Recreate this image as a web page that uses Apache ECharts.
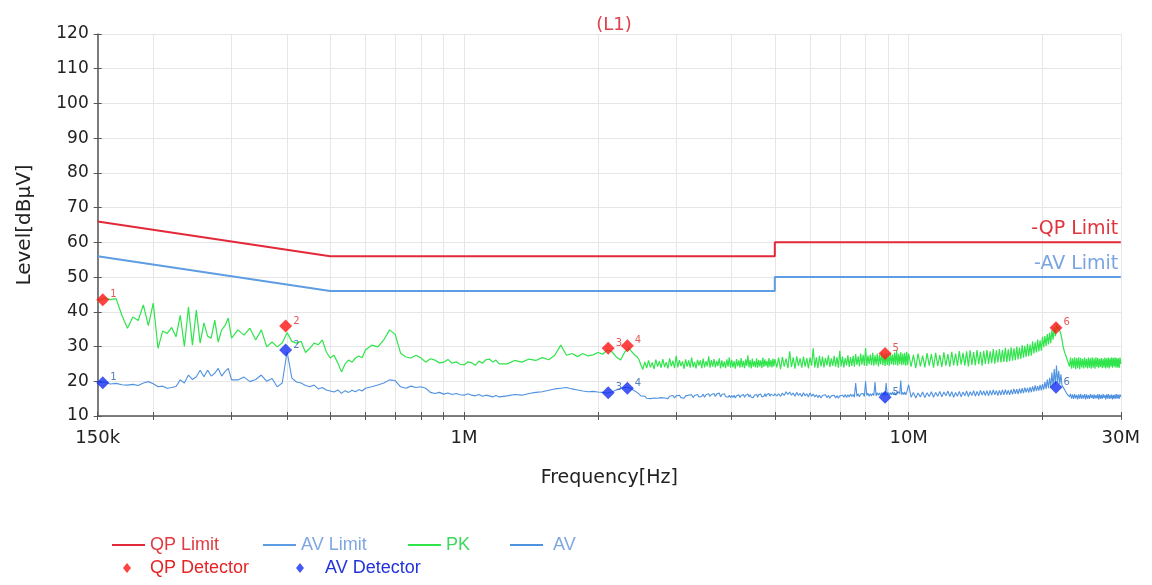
<!DOCTYPE html>
<html>
<head>
<meta charset="utf-8">
<script src="https://cdn.jsdelivr.net/npm/echarts@6/dist/echarts.min.js"></script>
<style>
html,body{margin:0;padding:0;background:#fff;}
#chart{width:1152px;height:585px;}
</style>
</head>
<body>
<div id="chart"></div>
<script>
// ---------- DATA (frequencies in MHz, levels in dBµV) ----------
const freqA = [0.150,0.155,0.160,0.165,0.170,0.175,0.180,0.185,0.190,0.195,0.200,0.205,0.210,0.215,0.220,0.225,0.230,0.235,0.240,0.245,0.250,0.255,0.260,0.265,0.270,0.275,0.280,0.285,0.290,0.295,0.300];
const pkA   = [43.0,44.0,43.5,43.8,39.0,35.3,38.5,37.5,42.0,36.0,42.5,29.5,34.5,33.8,35.5,32.8,39.0,30.0,41.4,30.4,40.5,31.0,36.8,33.0,32.4,37.6,31.3,34.8,36.0,38.2,32.4];
const avA   = [19.6,19.8,19.2,19.4,19.0,18.9,19.1,18.8,19.5,19.9,19.3,18.4,18.6,18.0,18.2,18.5,20.4,19.5,21.8,20.5,21.3,23.2,21.3,23.2,21.5,22.3,23.7,21.5,22.8,23.7,20.4];

const freqB = [0.31,0.32,0.33,0.34,0.35,0.36,0.37,0.38,0.39,0.40,0.41,0.42,0.43,0.44,0.45,0.46,0.47,0.48,0.49,0.50,0.51,0.52,0.53,0.54,0.55,0.56,0.57,0.58,0.59,0.60];
const pkB   = [34.8,33.3,35.3,31.9,34.8,29.9,31.3,29.9,31.0,34.0,31.5,31.0,31.5,28.3,29.5,31.0,30.5,31.9,28.5,26.7,27.5,25.3,22.7,25.0,26.1,25.5,26.7,27.3,26.8,29.0];
const avB   = [20.4,21.2,19.9,20.5,21.8,20.0,20.8,18.4,19.5,28.5,20.9,19.8,19.5,18.8,18.4,18.9,17.8,18.2,17.5,17.2,16.9,17.5,16.5,17.3,16.8,17.4,17.0,17.6,17.2,18.0];

const freqC = [0.62,0.64,0.66,0.68,0.70,0.72,0.74,0.76,0.78,0.80,0.82,0.84,0.86,0.88,0.90,0.92,0.94,0.96,0.98,1.00,1.02,1.04,1.06,1.08,1.10,1.12,1.14,1.16,1.18,1.20];
const pkC   = [30.4,29.9,31.9,34.8,33.5,28.1,27.0,26.7,27.5,26.7,25.5,26.5,26.1,25.3,25.5,26.3,25.2,25.6,24.9,24.7,25.6,25.3,24.6,25.8,25.2,26.2,26.4,25.5,26.1,25.0];
const avC   = [18.4,18.9,19.5,20.4,20.2,18.4,18.0,18.6,18.2,18.4,18.0,16.8,16.5,16.8,16.3,16.6,16.2,16.5,16.1,16.0,16.4,16.0,15.8,16.2,15.7,16.0,15.8,15.5,15.9,15.5];

const freqD = [1.25,1.30,1.35,1.40,1.45,1.50,1.55,1.60,1.65,1.70,1.75,1.80,1.85,1.90,1.95,2.00,2.05,2.10,2.15,2.20,2.25,2.30,2.35,2.40];
const pkD   = [25.0,26.0,25.5,26.4,26.0,26.8,26.2,27.5,30.4,27.5,28.0,27.1,28.0,27.3,27.6,28.3,27.8,29.0,28.5,27.0,26.1,28.5,29.5,28.0];
const avD   = [15.8,16.2,16.0,16.5,16.8,17.0,17.4,17.8,18.0,18.2,17.8,17.5,17.2,17.0,17.1,16.9,16.8,16.6,16.9,17.5,18.0,18.3,18.2,17.5];

const freqE = [2.450,2.475,2.500,2.525,2.550,2.575,2.600,2.625,2.650,2.675,2.700,2.725,2.750,2.775,2.800,2.825,2.850,2.875,2.900,2.925,2.950,2.975,
  3.000,3.025,3.050,3.075,3.100,3.125,3.150,3.175,3.200,3.225,3.250,3.275,3.300,3.325,3.350,3.375,3.400,3.425,3.450,3.475,3.500,3.525,3.550,3.575,3.600,3.625,3.650,3.675,3.700,3.725,3.750,3.775,3.800,3.825,3.850,3.875,3.900,3.925,3.950,3.975,
  4.000,4.025,4.050,4.075,4.100,4.125,4.150,4.175,4.200,4.225,4.250,4.275,4.300,4.325,4.350,4.375,4.400,4.425,4.450,4.475,4.500,4.525,4.550,4.575,4.600,4.625,4.650,4.675,4.700,4.725,4.750,4.775,4.800,4.825,4.850,4.875,4.900,4.925,4.950,4.975,
  5.000];
const pkE = [27.0,26.2,24.6,23.4,25.6,23.8,26.0,24.0,25.4,23.6,26.2,24.2,25.8,23.9,26.4,24.1,25.5,23.7,26.6,24.3,25.9,23.8,
  27.3,24.0,26.1,24.4,25.7,23.6,26.3,24.2,26.0,23.9,26.8,24.1,25.6,23.7,26.2,24.5,26.0,23.8,26.5,24.0,25.8,24.3,27.2,23.9,26.1,24.2,26.4,24.0,25.9,24.4,26.6,23.7,26.0,24.1,25.7,23.8,26.3,24.2,26.9,23.9,
  26.2,24.0,25.8,23.6,26.4,24.3,26.0,23.9,26.7,24.1,25.9,23.8,26.3,24.4,27.5,24.0,26.1,23.7,26.5,24.2,25.8,24.0,26.6,23.9,26.2,24.3,26.0,23.8,26.8,24.1,26.3,24.4,25.9,23.9,26.7,24.2,26.1,24.0,26.5,24.3,
  26.4];
const avE = [16.8,16.3,15.8,15.3,15.7,15.1,15.6,15.0,15.5,15.2,15.7,15.1,15.6,15.3,15.8,15.2,15.6,15.0,15.7,15.3,15.9,15.2,
  15.8,15.4,16.0,15.3,15.7,15.1,15.8,15.4,16.0,15.5,16.1,15.3,15.9,15.4,16.2,15.5,16.0,15.6,16.3,15.4,16.1,15.7,16.4,15.6,16.2,15.8,16.5,15.6,16.3,15.9,16.6,15.5,16.2,15.7,16.4,15.6,16.1,15.4,16.0,15.3,
  15.9,15.3,16.0,15.2,15.8,15.4,16.1,15.3,15.9,15.5,16.2,15.4,16.0,15.6,16.3,15.5,16.1,15.4,15.9,15.3,16.0,15.5,16.2,15.4,16.1,15.6,16.3,15.5,16.0,15.7,16.4,15.6,16.2,15.8,16.5,15.7,16.3,15.9,16.6,15.8,
  16.4];

const freqF = [5.05,5.10,5.15,5.20,5.25,5.30,5.35,5.40,5.45,5.50,5.55,5.60,5.65,5.70,5.75,5.80,5.85,5.90,5.95,
  6.00,6.05,6.10,6.15,6.20,6.25,6.30,6.35,6.40,6.45,6.50,6.55,6.60,6.65,6.70,6.75,6.80,6.85,6.90,6.95,
  7.00,7.05,7.10,7.15,7.20,7.25,7.30,7.35,7.40,7.45,7.50,7.55,7.60,7.65,7.70,7.75,7.80,7.85,7.90,7.95,
  8.00,8.05,8.10,8.15,8.20,8.25,8.30,8.35,8.40,8.45,8.50,8.55,8.60,8.65,8.70,8.75,8.80,8.85,8.90,8.95,
  9.00,9.05,9.10,9.15,9.20,9.25,9.30,9.35,9.40,9.45,9.50,9.55,9.60,9.65,9.70,9.75,9.80,9.85,9.90,9.95,
  10.00];
const pkF = [24.0,26.8,23.5,27.0,24.2,26.5,23.8,28.6,24.1,26.9,23.6,27.2,24.4,26.6,23.9,27.1,24.2,26.7,23.7,
  26.8,24.5,29.5,24.0,26.9,23.8,27.3,24.3,27.1,24.0,26.7,24.6,27.5,24.1,26.6,24.4,27.3,24.2,27.0,23.9,
  28.8,24.3,27.1,24.0,26.7,24.6,27.5,24.1,27.0,24.4,27.3,24.2,27.8,24.7,27.2,24.3,28.0,24.8,27.6,24.5,
  29.6,24.4,27.4,24.9,27.7,24.6,28.2,24.5,27.5,24.8,28.0,24.3,27.6,24.9,28.3,24.6,27.8,24.4,28.1,24.7,
  27.9,24.5,28.2,24.9,27.7,24.6,28.3,24.8,29.0,24.5,27.9,24.9,28.4,24.6,28.0,24.8,28.2,24.5,28.5,24.7,
  28.0];
const avF = [15.8,16.4,15.6,16.6,15.9,17.0,16.2,16.9,16.0,16.6,15.7,16.8,15.9,16.5,15.6,16.7,15.8,16.4,15.5,
  16.6,15.7,16.3,15.5,16.1,15.3,16.0,15.2,15.9,15.4,16.1,15.3,15.9,15.1,15.8,15.3,16.0,15.2,15.9,15.1,
  15.8,15.3,16.0,15.4,16.2,15.3,16.1,15.5,16.3,15.6,16.2,15.4,19.5,15.7,16.4,15.5,16.3,15.8,16.5,15.6,
  20.0,15.9,16.6,15.7,16.4,15.8,16.5,15.9,19.8,15.8,16.7,16.0,16.6,15.9,16.8,16.0,16.7,15.9,19.5,16.1,
  16.8,16.0,16.7,16.1,16.9,16.2,16.8,16.0,16.7,16.2,16.9,16.3,20.2,16.1,16.8,16.2,16.9,16.1,16.8,16.3,
  19.0];

const freqG = [10.125,10.25,10.375,10.5,10.625,10.75,10.875,
  11.0,11.125,11.25,11.375,11.5,11.625,11.75,11.875,
  12.0,12.125,12.25,12.375,12.5,12.625,12.75,12.875,
  13.0,13.125,13.25,13.375,13.5,13.625,13.75,13.875,
  14.0,14.125,14.25,14.375,14.5,14.625,14.75,14.875,
  15.0,15.125,15.25,15.375,15.5,15.625,15.75,15.875,
  16.0,16.125,16.25,16.375,16.5,16.625,16.75,16.875,
  17.0,17.125,17.25,17.375,17.5,17.625,17.75,17.875,
  18.0,18.125,18.25,18.375,18.5,18.625,18.75,18.875,
  19.0,19.125,19.25,19.375,19.5,19.625,19.75,19.875,
  20.0,20.125,20.25,20.375,20.5,20.625,20.75,20.875,
  21.0,21.125,21.25,21.375,21.5,21.625,21.75,21.875,
  22.0,22.125,22.25,22.375,22.5,22.625,22.75,22.875,
  23.0,23.125,23.25,23.375,23.5,23.625,23.75,23.875,
  24.0,24.125,24.25,24.375,24.5,24.625,24.75,24.875,
  25.0,25.125,25.25,25.375,25.5,25.625,25.75,25.875,
  26.0,26.125,26.25,26.375,26.5,26.625,26.75,26.875,
  27.0,27.125,27.25,27.375,27.5,27.625,27.75,27.875,
  28.0,28.125,28.25,28.375,28.5,28.625,28.75,28.875,
  29.0,29.125,29.25,29.375,29.5,29.625,29.75,29.875,
  30.0];
const pkG = [24.2,27.6,23.8,28.0,24.3,27.4,24.0,
  28.1,24.5,27.8,23.9,28.2,24.4,27.5,24.1,
  28.3,24.5,27.8,24.2,28.5,24.6,28.0,24.4,
  28.7,24.8,28.2,24.5,28.6,24.3,28.9,24.7,
  28.4,24.6,29.0,24.9,28.5,24.5,28.8,25.0,
  29.0,25.0,28.6,25.2,29.3,25.1,28.9,25.4,
  29.3,25.4,29.0,25.6,29.6,25.5,29.2,25.8,
  29.8,25.9,29.5,26.1,30.0,26.3,29.7,26.4,
  30.4,26.8,30.2,27.0,30.8,27.2,30.6,27.4,
  31.5,28.0,31.2,28.3,32.0,28.6,31.8,28.8,
  32.8,29.8,33.0,30.2,33.6,30.6,34.0,31.0,
  34.8,32.0,35.5,33.0,36.5,35.0,35.8,34.5,
  33.5,32.0,30.0,28.8,27.8,27.0,26.5,25.2,
  24.2,26.8,23.6,26.6,23.9,26.9,23.5,26.7,
  23.8,26.9,23.5,26.7,24.0,26.5,23.7,26.8,
  24.0,26.5,23.7,26.8,23.9,26.6,23.6,26.9,
  23.9,26.6,23.6,26.9,24.1,26.7,23.8,26.5,
  24.1,26.7,23.8,26.5,24.0,26.8,23.7,26.6,
  24.0,26.8,23.7,26.6,24.2,26.9,23.9,26.7,
  24.2,26.9,23.9,26.7,24.0,26.6,23.8,26.8,
  25.0];
const avG = [15.4,16.8,15.2,16.6,15.5,16.9,15.3,
  16.7,15.6,17.0,15.4,16.8,15.7,17.1,15.5,
  16.9,15.8,17.2,15.6,17.0,15.4,16.8,15.7,
  17.1,15.5,16.9,15.8,17.2,15.6,17.0,15.9,
  17.3,15.7,17.1,15.8,17.4,16.0,17.2,15.9,
  17.3,15.8,17.4,16.0,17.5,16.1,17.3,15.9,
  17.4,16.0,17.5,16.1,17.6,16.2,17.4,16.1,
  17.6,16.2,17.8,16.4,17.7,16.3,17.9,16.5,
  18.0,16.6,18.2,16.8,18.1,16.7,18.3,16.9,
  18.5,17.0,18.8,17.2,18.6,17.3,19.0,17.4,
  19.2,17.6,19.8,17.8,20.5,18.0,21.0,18.2,
  22.5,18.5,23.5,19.0,24.5,19.5,23.0,19.2,
  22.0,18.8,18.5,17.8,17.2,16.8,16.2,15.8,
  15.5,16.4,15.0,16.2,14.9,16.3,15.1,16.1,
  14.8,16.2,15.0,16.4,14.9,16.1,15.1,16.3,
  14.8,16.2,15.0,16.0,14.9,16.3,15.2,16.1,
  14.9,16.2,15.0,16.0,15.1,16.3,14.8,16.2,
  15.0,16.1,14.9,16.3,15.2,16.0,14.8,16.2,
  15.1,16.3,14.9,16.1,15.0,16.2,14.8,16.0,
  15.0,16.2,14.9,16.3,15.1,16.1,14.9,16.2,
  15.5];

// limit lines (MHz, dBµV)
const limitFreq    = [0.15, 0.5, 5, 5, 30];
const qpLimitLevel = [66, 56, 56, 60, 60];
const avLimitLevel = [56, 46, 46, 50, 50];

// detector readings
const detFreq     = [0.154, 0.397, 2.11, 2.33, 8.85, 21.45];
const qpDetLevel  = [43.5, 35.9, 29.5, 30.2, 28.0, 35.4];
const avDetLevel  = [19.6, 29.0, 16.7, 18.0, 15.4, 18.3];
const detLabels   = ['1','2','3','4','5','6'];

// axes
const xTickFreqs  = [0.15,0.2,0.3,0.4,0.5,0.6,0.7,0.8,0.9,1,2,3,4,5,6,7,8,9,10,20,30];
const xLabelFreqs = [0.15, 1, 10, 30];
const xLabelTexts = ['150k', '1M', '10M', '30M'];
const yMin = 10, yMax = 120, yStep = 10;

// ---------- BUILD ----------
const lg = Math.log10;
const freqAll = [].concat(freqA, freqB, freqC, freqD, freqE, freqF, freqG);
const pkAll   = [].concat(pkA, pkB, pkC, pkD, pkE, pkF, pkG);
const avAll   = [].concat(avA, avB, avC, avD, avE, avF, avG);
const pair = (fs, vs) => fs.map((f, i) => [lg(f), vs[i]]);

const xTickVals  = xTickFreqs.map(lg);
const xLabelVals = xLabelFreqs.map(lg);
const xMin = lg(0.15), xMax = lg(30);

const FONT = 'DejaVu Sans';
const LFONT = 'Liberation Sans';
const C = {
  qpLim: '#e3283a', avLim: '#5e9de3', pk: '#30e44c', av: '#4f92e0',
  qpDet: '#ff1414', avDet: '#1530f0'
};

const chart = echarts.init(document.getElementById('chart'), null, {renderer: 'canvas'});

function limitLabel(text, color, level) {
  return {
    symbol: 'rect', symbolSize: 1, itemStyle: {color: 'rgba(0,0,0,0)'},
    label: {show: true, position: 'left', distance: 2, offset: [0, -13], formatter: text,
            color: color, fontSize: 19, fontFamily: FONT},
    data: [{coord: [xMax, level]}]
  };
}

const legendRow1 = [
  {name: 'QP Limit', left: 112, color: '#e03a40'},
  {name: 'AV Limit', left: 263, color: '#7ea7e2'},
  {name: 'PK', left: 408, color: '#3ed85c'},
  {name: 'AV', left: 510, color: '#7ea7e2', pad: 5}
];
const legendRow2 = [
  {name: 'QP Detector', left: 123, color: '#e62424', pad: 14},
  {name: 'AV Detector', left: 296, color: '#2233dd', pad: 16}
];

const legends = legendRow1.map(it => ({
  top: 536, left: it.left, icon: 'rect', itemWidth: 33, itemHeight: 2,
  selectedMode: false, padding: 0,
  data: [{name: it.name, textStyle: {color: it.color, padding: [0, 0, 0, it.pad || 0]}}],
  textStyle: {fontSize: 18, fontFamily: LFONT}
})).concat(legendRow2.map(it => ({
  top: 559, left: it.left, icon: 'diamond', itemWidth: 8, itemHeight: 10,
  selectedMode: false, padding: 0,
  data: [{name: it.name, textStyle: {color: it.color, padding: [0, 0, 0, it.pad]}}],
  textStyle: {fontSize: 18, fontFamily: LFONT}
})));

const grid = {left: 97.7, right: 31.2, top: 34, bottom: 169, containLabel: false};

const option = {
  animation: false,
  backgroundColor: '#fff',
  title: {
    text: '(L1)', left: 609, top: 11, textAlign: 'center',
    textStyle: {color: '#e0404a', fontSize: 18, fontWeight: 'normal', fontFamily: FONT}
  },
  legend: legends,
  grid: grid,
  xAxis: [{
    type: 'value', min: xMin, max: xMax,
    name: 'Frequency[Hz]', nameLocation: 'middle', nameGap: 53,
    nameTextStyle: {fontSize: 19, color: '#222', fontFamily: FONT},
    axisLine: {show: true, onZero: false, lineStyle: {color: '#555', width: 1.5}},
    axisTick: {show: true, length: 4, customValues: xTickVals, lineStyle: {color: '#555'}},
    axisLabel: {
      show: true, customValues: xLabelVals, margin: 13, fontSize: 18, color: '#222', fontFamily: FONT,
      showMinLabel: true, showMaxLabel: true,
      formatter: v => {
        let best = 0;
        xLabelVals.forEach((lv, i) => { if (Math.abs(lv - v) < Math.abs(xLabelVals[best] - v)) best = i; });
        return xLabelTexts[best];
      }
    },
    splitLine: {show: true, lineStyle: {color: '#e6e6e6', width: 1}}
  }, {
    type: 'value', min: xMin, max: xMax, position: 'bottom',
    axisLine: {show: false, onZero: false},
    axisTick: {show: true, inside: true, length: 4, customValues: xTickVals, lineStyle: {color: '#555'}},
    axisLabel: {show: false}, splitLine: {show: false}
  }],
  yAxis: [{
    type: 'value', min: yMin, max: yMax, interval: yStep,
    name: 'Level[dBµV]', nameLocation: 'middle', nameGap: 63, nameRotate: 90,
    nameTextStyle: {fontSize: 20, color: '#222', fontFamily: FONT},
    axisLine: {show: true, onZero: false, lineStyle: {color: '#555', width: 1.5}},
    axisTick: {show: true, length: 4, lineStyle: {color: '#555'}},
    axisLabel: {margin: 9, fontSize: 17, color: '#222', fontFamily: FONT},
    splitLine: {show: true, lineStyle: {color: '#e6e6e6', width: 1}}
  }, {
    type: 'value', min: yMin, max: yMax, interval: yStep, position: 'left',
    axisLine: {show: false, onZero: false},
    axisTick: {show: true, inside: true, length: 4, lineStyle: {color: '#555'}},
    axisLabel: {show: false}, splitLine: {show: false}
  }],
  series: [
    {
      name: 'QP Limit', type: 'line', data: pair(limitFreq, qpLimitLevel),
      symbol: 'none', lineStyle: {color: C.qpLim, width: 2}, itemStyle: {color: C.qpLim},
      markPoint: limitLabel('-QP Limit', '#e0343c', 60), z: 4
    },
    {
      name: 'AV Limit', type: 'line', data: pair(limitFreq, avLimitLevel),
      symbol: 'none', lineStyle: {color: C.avLim, width: 2}, itemStyle: {color: C.avLim},
      markPoint: limitLabel('-AV Limit', '#79a5e2', 50), z: 4
    },
    {
      name: 'PK', type: 'line', data: pair(freqAll, pkAll),
      symbol: 'none', lineStyle: {color: C.pk, width: 1.2}, itemStyle: {color: C.pk}, z: 2
    },
    {
      name: 'AV', type: 'line', data: pair(freqAll, avAll),
      symbol: 'none', lineStyle: {color: C.av, width: 1.1}, itemStyle: {color: C.av}, z: 2
    },
    {
      name: 'QP Detector', type: 'scatter', data: pair(detFreq, qpDetLevel),
      symbol: 'diamond', symbolSize: 13, itemStyle: {color: C.qpDet}, z: 5,
      label: {show: true, position: 'right', distance: 1, offset: [0, -5], fontSize: 10, color: '#e03030',
              fontFamily: FONT, formatter: p => detLabels[p.dataIndex]}
    },
    {
      name: 'AV Detector', type: 'scatter', data: pair(detFreq, avDetLevel),
      symbol: 'diamond', symbolSize: 13, itemStyle: {color: C.avDet}, z: 5,
      label: {show: true, position: 'right', distance: 1, offset: [0, -5], fontSize: 10, color: '#2a5fa8',
              fontFamily: FONT, formatter: p => detLabels[p.dataIndex]}
    }
  ]
};
chart.setOption(option);
</script>
</body>
</html>
